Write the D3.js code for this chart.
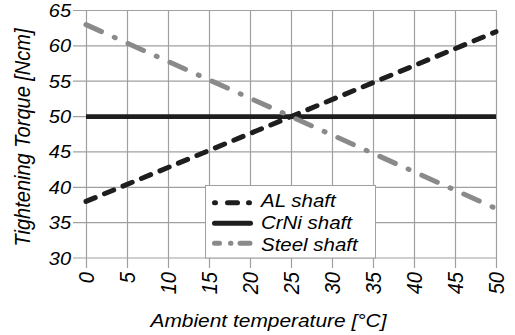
<!DOCTYPE html>
<html><head><meta charset="utf-8">
<script src="https://cdn.jsdelivr.net/npm/d3@7"></script>
<style>body{margin:0;background:#fff}text{font-family:"Liberation Sans",Arial,sans-serif;font-style:italic}</style>
</head><body><svg id="c" width="515" height="335"></svg>
<script>
const temps = [0, 50];
const alShaft = [38, 62];
const crniShaft = [50, 50];
const steelShaft = [63, 37];
const xTicks = [0,5,10,15,20,25,30,35,40,45,50];
const yTicks = [30,35,40,45,50,55,60,65];
const seriesNames = ["AL shaft","CrNi shaft","Steel shaft"];

const svg = d3.select("#c");
const x = d3.scaleLinear().domain([0,50]).range([86,496]);
const y = d3.scaleLinear().domain([30,65]).range([258,10.5]);
const grid = "#a0a0a0";
const ink = "#000";

// grid
svg.append("g").selectAll("line").data(xTicks).join("line")
  .attr("x1",d=>Math.round(x(d))+0.5).attr("x2",d=>Math.round(x(d))+0.5).attr("y1",y(65)).attr("y2",y(30)+10)
  .attr("stroke",grid).attr("stroke-width",1.2);
svg.append("g").selectAll("line").data(yTicks).join("line")
  .attr("x1",x(0)-13).attr("x2",x(50)+0.5).attr("y1",d=>y(d)).attr("y2",d=>y(d))
  .attr("stroke",grid).attr("stroke-width",1.2);

// y tick labels
svg.append("g").selectAll("text").data(yTicks).join("text")
  .attr("transform",d=>`translate(71,${y(d)+6.5}) scale(1.08,1)`)
  .attr("text-anchor","end").attr("font-size",18.5).attr("fill",ink).text(d=>d);
// x tick labels
svg.append("g").selectAll("text").data(xTicks).join("text")
  .attr("transform",d=>`translate(${x(d)+7.5},272) scale(1.1,1) rotate(-90)`)
  .attr("text-anchor","end").attr("font-size",20).attr("fill",ink).text(d=>d);

// axis titles
svg.append("text").attr("transform","translate(29.5,137.5) scale(1.1,1) rotate(-90)")
  .attr("text-anchor","middle").attr("font-size",20).attr("fill",ink).text("Tightening Torque [Ncm]");
svg.append("text").attr("transform","translate(268.5,326.5) scale(1.1,1)")
  .attr("text-anchor","middle").attr("font-size",19).attr("fill",ink).text("Ambient temperature [°C]");

const styles = [
  {color:"#1e1e1e", dash:"10,10", w:5, cap:"round"},
  {color:"#1e1e1e", dash:null, w:4.8, cap:"butt"},
  {color:"#8a8a8a", dash:"17,14,1,14", w:5, cap:"round"}
];
const data = [alShaft, crniShaft, steelShaft];
const line = d3.line().x((d,i)=>x(temps[i])).y(d=>y(d));
data.forEach((s,k)=>{
  svg.append("path").datum(s).attr("d",line).attr("fill","none")
    .attr("stroke",styles[k].color).attr("stroke-width",styles[k].w)
    .attr("stroke-dasharray",styles[k].dash).attr("stroke-linecap",styles[k].cap);
});

// legend
const lg = svg.append("g");
lg.append("rect").attr("x",205.5).attr("y",185.5).attr("width",170).attr("height",72.5)
  .attr("fill","#fff").attr("stroke","#a0a0a0").attr("stroke-width",1);
const legDash = ["1,12,10,11,1,100", null, "5,11,0.5,9,10,100"];
const legY = [202.7, 223.3, 243.3];
const legBase = [206.7, 229.3, 251];
seriesNames.forEach((n,k)=>{
  lg.append("line").attr("x1",214.5).attr("x2",250.5).attr("y1",legY[k]).attr("y2",legY[k])
    .attr("stroke",styles[k].color).attr("stroke-width",5)
    .attr("stroke-dasharray",legDash[k])
    .attr("stroke-linecap","round");
  lg.append("text").attr("transform",`translate(261,${legBase[k]}) scale(1.17,1)`)
    .attr("font-size",17.5).attr("fill",ink).text(n);
});
</script></body></html>
